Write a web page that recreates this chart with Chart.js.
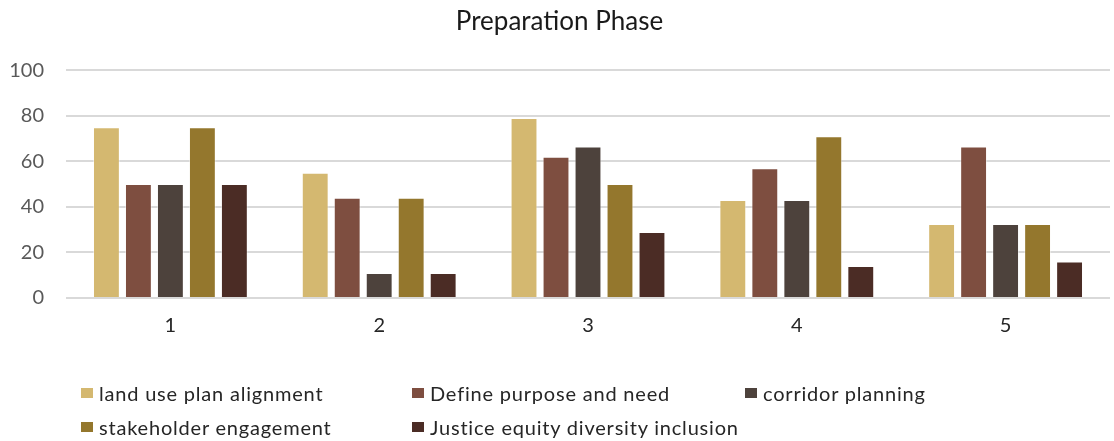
<!DOCTYPE html>
<html>
<head>
<meta charset="utf-8">
<script src="https://cdn.jsdelivr.net/npm/chart.js@4/dist/chart.umd.min.js"></script>
<style>
  html, body { margin: 0; padding: 0; background: #fff; }
  #wrap { position: relative; width: 1114px; height: 441px; }
  #chart { position: absolute; left: 0; top: 0; }
  #legend {
    position: absolute; left: 81px; top: 381px;
    display: grid; grid-template-columns: 331px 333px auto;
    row-gap: 10px;
    font-family: Lato, "Open Sans", sans-serif; font-size: 20px; letter-spacing: 0.8px; color: #262626;
  }
  .item { display: flex; align-items: center; white-space: nowrap; height: 24px; }
  .sw { width: 12px; height: 10px; margin-right: 6px; display: inline-block; }
</style>
</head>
<body>
<div id="wrap">
  <canvas id="chart" width="1114" height="441"></canvas>
  <div id="legend"></div>
</div>
<script>
const categories = ['1', '2', '3', '4', '5'];
const seriesNames = [
  'land use plan alignment',
  'Define purpose and need',
  'corridor planning',
  'stakeholder engagement',
  'Justice equity diversity inclusion'
];
const landUse     = [75, 55, 79, 43, 32.5];
const definePurp  = [50, 44, 62, 57, 66.5];
const corridor    = [50, 11, 66.5, 43, 32.5];
const stakeholder = [75, 44, 50, 71, 32.5];
const justice     = [50, 11, 29, 14, 16];
const yTicks = [0, 20, 40, 60, 80, 100];
const colors = ['#D4B870', '#7E4E40', '#4D423C', '#94772D', '#4B2C25'];

const seriesValues = [landUse, definePurp, corridor, stakeholder, justice];
const datasets = seriesNames.map((name, i) => ({
  label: name,
  data: seriesValues[i],
  backgroundColor: colors[i],
  borderColor: 'rgba(255,255,255,0.45)',
  borderWidth: 1,
  categoryPercentage: 0.766,
  barPercentage: 0.84
}));

const chart = new Chart(document.getElementById('chart'), {
  type: 'bar',
  data: { labels: categories, datasets },
  options: {
    responsive: false,
    animation: false,
    layout: { padding: { left: 9, right: 4, top: 6, bottom: 103 } },
    plugins: {
      legend: { display: false },
      tooltip: { enabled: false },
      title: {
        display: true,
        text: 'Preparation Phase',
        color: '#1a1a1a',
        font: { family: 'Lato, "Open Sans", sans-serif', size: 26, weight: 'normal' },
        padding: { top: 0, bottom: 33 }
      }
    },
    scales: {
      x: {
        grid: { display: false },
        border: { display: false },
        afterFit: (scale) => { scale.height = 40; },
        ticks: {
          color: '#262626',
          font: { family: 'Lato, "Open Sans", sans-serif', size: 20 },
          padding: 8
        }
      },
      y: {
        min: 0, max: 100,
        afterBuildTicks: (axis) => { axis.ticks = yTicks.map(v => ({ value: v })); },
        afterFit: (scale) => { scale.width = 57; },
        grid: { color: '#d9d9d9', lineWidth: 2, drawTicks: false },
        border: { display: false },
        ticks: {
          color: '#595959',
          font: { family: 'Lato, "Open Sans", sans-serif', size: 20 },
          padding: 22
        }
      }
    }
  }
});

// HTML legend laid out in fixed columns
const legendEl = document.getElementById('legend');
chart.data.datasets.forEach((ds) => {
  const item = document.createElement('div');
  item.className = 'item';
  const sw = document.createElement('span');
  sw.className = 'sw';
  sw.style.background = ds.backgroundColor;
  item.appendChild(sw);
  item.appendChild(document.createTextNode(ds.label));
  legendEl.appendChild(item);
});
</script>
</body>
</html>
